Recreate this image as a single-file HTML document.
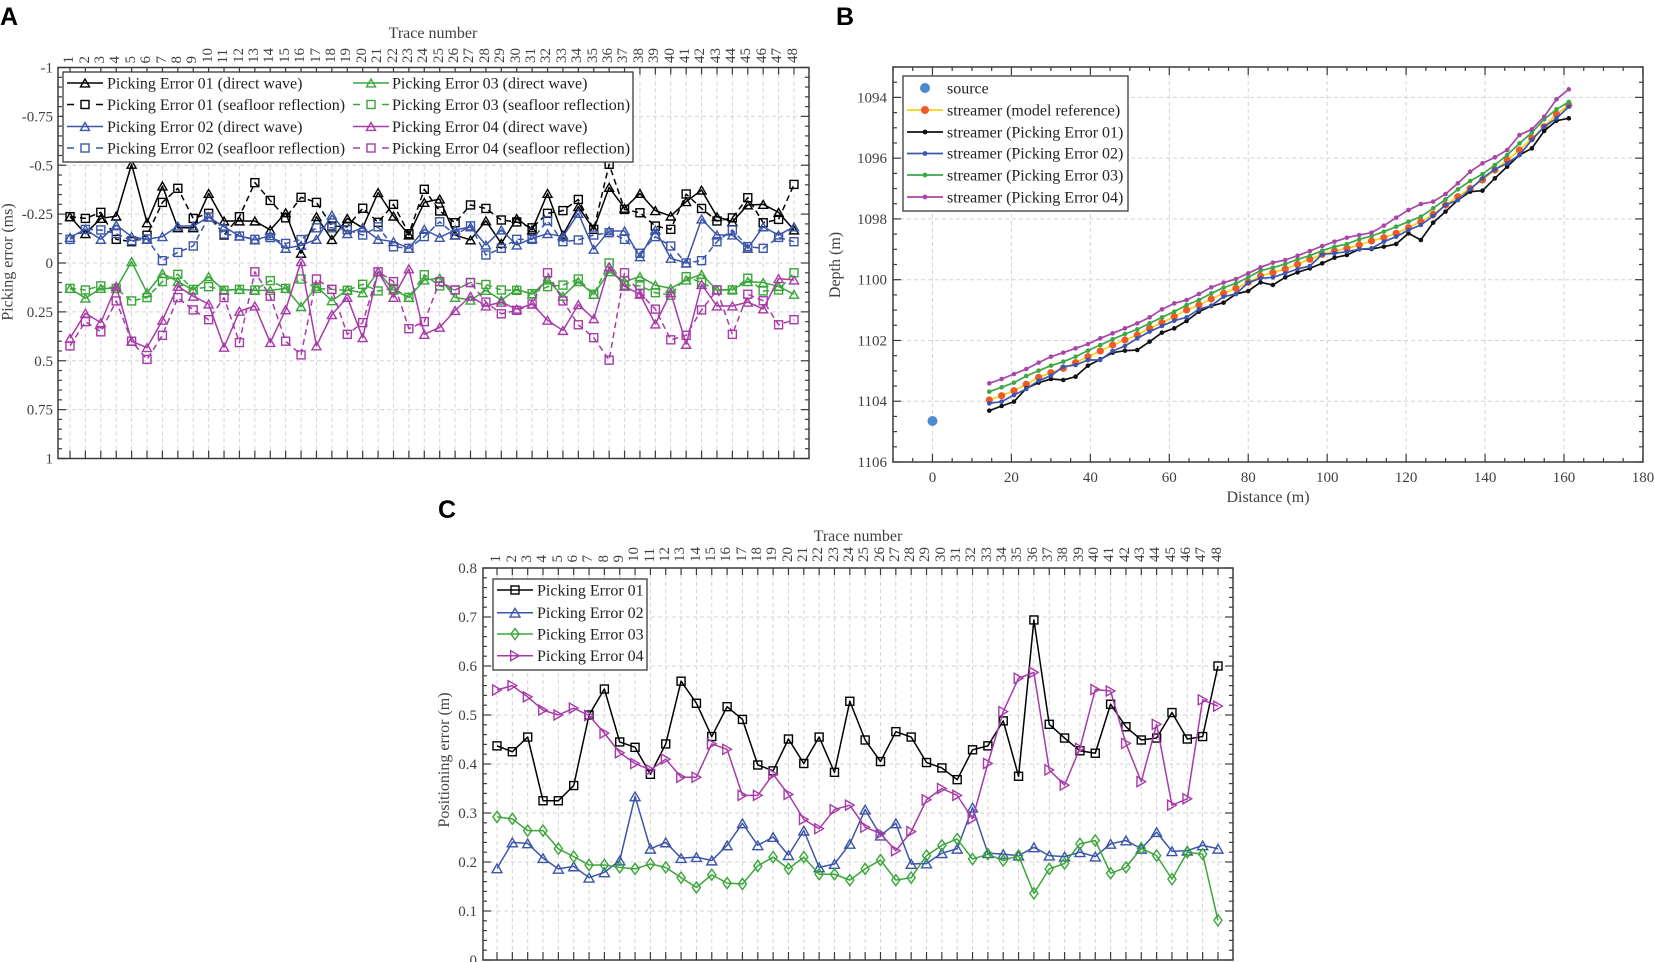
<!DOCTYPE html>
<html><head><meta charset="utf-8">
<style>
html,body{margin:0;padding:0;background:#fff;}
body{width:1654px;height:962px;position:relative;overflow:hidden;font-family:"Liberation Serif",serif;}
svg{position:absolute;left:0;top:0;}
.tn{position:absolute;display:flex;align-items:flex-end;}
.tn span{display:block;writing-mode:vertical-rl;transform:rotate(180deg);font-size:15px;line-height:15px;color:#404040;white-space:nowrap;text-align:center;}
.ta span{width:15.404px;}
.tc span{width:15.34px;}
</style></head>
<body>
<svg width="1654" height="962" viewBox="0 0 1654 962" xmlns="http://www.w3.org/2000/svg">
<g id="dyn"></g>
<g font-family="Liberation Serif, serif" fill="#404040" font-size="15">
  <!-- panel letters -->
  <text x="0" y="25" font-family="Liberation Sans, sans-serif" font-weight="bold" font-size="25" fill="#000">A</text>
  <text x="836" y="25" font-family="Liberation Sans, sans-serif" font-weight="bold" font-size="25" fill="#000">B</text>
  <text x="438" y="518" font-family="Liberation Sans, sans-serif" font-weight="bold" font-size="25" fill="#000">C</text>

  <!-- Panel A -->
  <text x="433" y="38" font-size="16" text-anchor="middle">Trace number</text>
  <g text-anchor="end">
    <text x="53" y="72.5">-1</text>
    <text x="53" y="121.4">-0.75</text>
    <text x="53" y="170.3">-0.5</text>
    <text x="53" y="219.1">-0.25</text>
    <text x="53" y="268">0</text>
    <text x="53" y="316.9">0.25</text>
    <text x="53" y="365.8">0.5</text>
    <text x="53" y="414.6">0.75</text>
    <text x="53" y="463.5">1</text>
  </g>
  <text transform="translate(12.5,262) rotate(-90)" font-size="16" text-anchor="middle">Picking error (ms)</text>
  <g font-size="16" fill="#222">
    <text x="107" y="88.5">Picking Error 01 (direct wave)</text>
    <text x="107" y="110">Picking Error 01 (seafloor reflection)</text>
    <text x="107" y="132">Picking Error 02 (direct wave)</text>
    <text x="107" y="153.5">Picking Error 02 (seafloor reflection)</text>
    <text x="392" y="88.5">Picking Error 03 (direct wave)</text>
    <text x="392" y="110">Picking Error 03 (seafloor reflection)</text>
    <text x="392" y="132">Picking Error 04 (direct wave)</text>
    <text x="392" y="153.5">Picking Error 04 (seafloor reflection)</text>
  </g>

  <!-- Panel B -->
  <g text-anchor="end">
    <text x="887" y="102.4">1094</text>
    <text x="887" y="163.2">1096</text>
    <text x="887" y="223.9">1098</text>
    <text x="887" y="284.7">1100</text>
    <text x="887" y="345.5">1102</text>
    <text x="887" y="406.2">1104</text>
    <text x="887" y="467">1106</text>
  </g>
  <g text-anchor="middle">
    <text x="932.5" y="482">0</text>
    <text x="1011.4" y="482">20</text>
    <text x="1090.4" y="482">40</text>
    <text x="1169.3" y="482">60</text>
    <text x="1248.3" y="482">80</text>
    <text x="1327.2" y="482">100</text>
    <text x="1406.1" y="482">120</text>
    <text x="1485.1" y="482">140</text>
    <text x="1564" y="482">160</text>
    <text x="1643" y="482">180</text>
  </g>
  <text x="1268" y="502" font-size="16" text-anchor="middle">Distance (m)</text>
  <text transform="translate(840,265) rotate(-90)" font-size="16" text-anchor="middle">Depth (m)</text>
  <g font-size="16" fill="#222">
    <text x="947" y="93.5">source</text>
    <text x="947" y="115.5">streamer (model reference)</text>
    <text x="947" y="137.5">streamer (Picking Error 01)</text>
    <text x="947" y="158.5">streamer (Picking Error 02)</text>
    <text x="947" y="180.5">streamer (Picking Error 03)</text>
    <text x="947" y="202.5">streamer (Picking Error 04)</text>
  </g>

  <!-- Panel C -->
  <text x="858" y="541" font-size="16" text-anchor="middle">Trace number</text>
  <g text-anchor="end">
    <text x="477" y="573">0.8</text>
    <text x="477" y="622">0.7</text>
    <text x="477" y="671">0.6</text>
    <text x="477" y="720">0.5</text>
    <text x="477" y="769">0.4</text>
    <text x="477" y="818">0.3</text>
    <text x="477" y="867">0.2</text>
    <text x="477" y="916">0.1</text>
    <text x="477" y="965">0</text>
  </g>
  <text transform="translate(449,760) rotate(-90)" font-size="16" text-anchor="middle">Positioning error (m)</text>
  <g font-size="16" fill="#222">
    <text x="537" y="595.5">Picking Error 01</text>
    <text x="537" y="618">Picking Error 02</text>
    <text x="537" y="639.5">Picking Error 03</text>
    <text x="537" y="661">Picking Error 04</text>
  </g>
</g>
</svg>

<div class="tn ta" style="left:62.3px;top:26px;height:37px;"><span>1</span><span>2</span><span>3</span><span>4</span><span>5</span><span>6</span><span>7</span><span>8</span><span>9</span><span>10</span><span>11</span><span>12</span><span>13</span><span>14</span><span>15</span><span>16</span><span>17</span><span>18</span><span>19</span><span>20</span><span>21</span><span>22</span><span>23</span><span>24</span><span>25</span><span>26</span><span>27</span><span>28</span><span>29</span><span>30</span><span>31</span><span>32</span><span>33</span><span>34</span><span>35</span><span>36</span><span>37</span><span>38</span><span>39</span><span>40</span><span>41</span><span>42</span><span>43</span><span>44</span><span>45</span><span>46</span><span>47</span><span>48</span></div>

<div class="tn tc" style="left:489.3px;top:525px;height:37px;"><span>1</span><span>2</span><span>3</span><span>4</span><span>5</span><span>6</span><span>7</span><span>8</span><span>9</span><span>10</span><span>11</span><span>12</span><span>13</span><span>14</span><span>15</span><span>16</span><span>17</span><span>18</span><span>19</span><span>20</span><span>21</span><span>22</span><span>23</span><span>24</span><span>25</span><span>26</span><span>27</span><span>28</span><span>29</span><span>30</span><span>31</span><span>32</span><span>33</span><span>34</span><span>35</span><span>36</span><span>37</span><span>38</span><span>39</span><span>40</span><span>41</span><span>42</span><span>43</span><span>44</span><span>45</span><span>46</span><span>47</span><span>48</span></div>

<script>
(function(){
const NS='http://www.w3.org/2000/svg';
const S=document.getElementById('dyn');
function E(t,a){const e=document.createElementNS(NS,t);for(const k in a)e.setAttribute(k,a[k]);S.appendChild(e);return e;}
const AX='#3a3a3a', GR='#d4d4d4';
const K='#000000', BL='#3c55a8', GN='#3aa63a', MG='#a83aa8';
function L(x1,y1,x2,y2,c,w,d){const a={x1:x1,y1:y1,x2:x2,y2:y2,stroke:c,'stroke-width':w};if(d)a['stroke-dasharray']=d;E('line',a);}
function P(pts,c,w,d){const a={points:pts.map(p=>p[0].toFixed(2)+','+p[1].toFixed(2)).join(' '),fill:'none',stroke:c,'stroke-width':w,'stroke-linejoin':'round'};if(d)a['stroke-dasharray']=d;E('polyline',a);}
function M(t,x,y,c,s){
  const sw=1.4;
  if(t==='sq')E('rect',{x:x-s/2,y:y-s/2,width:s,height:s,fill:'none',stroke:c,'stroke-width':sw});
  else if(t==='tri'){const h=s*0.87;E('polygon',{points:[x-s/2,y+h/2,x+s/2,y+h/2,x,y-h/2].join(' '),fill:'none',stroke:c,'stroke-width':sw});}
  else if(t==='rtri'){const h=s*0.87;E('polygon',{points:[x-h/2,y-s/2,x+h/2,y,x-h/2,y+s/2].join(' '),fill:'none',stroke:c,'stroke-width':sw});}
  else if(t==='dia'){E('polygon',{points:[x,y-s*0.62,x+s*0.45,y,x,y+s*0.62,x-s*0.45,y].join(' '),fill:'none',stroke:c,'stroke-width':sw});}
  else if(t==='dot')E('circle',{cx:x,cy:y,r:s,fill:c});
}

/* ================= PANEL A ================= */
const xA=i=>70+(i-1)*15.404, yA=v=>263+v*195.5;
const A={l:58,r:809,t:67.5,b:458.5};
for(let i=1;i<=48;i++)L(xA(i),A.t,xA(i),A.b,GR,1,'4,3');
for(let k=-3;k<=3;k++)L(A.l,yA(k*0.25),A.r,yA(k*0.25),GR,1,'4,3');

const A01d=[-0.237,-0.15,-0.228,-0.24,-0.505,-0.206,-0.394,-0.18,-0.18,-0.356,-0.215,-0.215,-0.215,-0.169,-0.257,-0.05,-0.237,-0.12,-0.228,-0.18,-0.36,-0.24,-0.143,-0.31,-0.327,-0.143,-0.118,-0.216,-0.1,-0.228,-0.169,-0.356,-0.143,-0.288,-0.172,-0.387,-0.28,-0.356,-0.268,-0.24,-0.314,-0.373,-0.237,-0.211,-0.297,-0.3,-0.259,-0.169];
const A01s=[-0.237,-0.228,-0.259,-0.121,-0.109,-0.142,-0.31,-0.382,-0.228,-0.254,-0.143,-0.237,-0.411,-0.32,-0.231,-0.336,-0.31,-0.189,-0.185,-0.28,-0.208,-0.30,-0.15,-0.377,-0.266,-0.206,-0.297,-0.279,-0.22,-0.21,-0.18,-0.254,-0.268,-0.325,-0.172,-0.505,-0.274,-0.257,-0.189,-0.172,-0.353,-0.279,-0.215,-0.231,-0.334,-0.206,-0.223,-0.402];
const A02d=[-0.131,-0.172,-0.121,-0.194,-0.135,-0.121,-0.135,-0.189,-0.189,-0.235,-0.185,-0.138,-0.118,-0.14,-0.075,-0.09,-0.121,-0.245,-0.15,-0.18,-0.121,-0.109,-0.075,-0.172,-0.131,-0.169,-0.185,-0.092,-0.169,-0.092,-0.126,-0.15,-0.135,-0.254,-0.07,-0.164,-0.164,-0.032,-0.169,-0.024,0.0,-0.225,-0.143,-0.143,-0.075,-0.185,-0.143,-0.185];
const A02s=[-0.121,-0.172,-0.169,-0.15,-0.114,-0.123,-0.012,-0.054,-0.087,-0.235,-0.148,-0.138,-0.121,-0.13,-0.1,-0.12,-0.18,-0.18,-0.17,-0.143,-0.185,-0.083,-0.075,-0.135,-0.211,-0.143,-0.19,-0.041,-0.075,-0.121,-0.121,-0.216,-0.109,-0.118,-0.143,-0.155,-0.121,-0.05,-0.135,-0.087,0.0,-0.012,-0.109,-0.169,-0.084,-0.075,-0.131,-0.109];
const A03d=[0.13,0.18,0.13,0.13,-0.007,0.152,0.053,0.095,0.138,0.07,0.14,0.135,0.14,0.14,0.13,0.223,0.12,0.193,0.138,0.152,0.045,0.138,0.176,0.087,0.078,0.176,0.19,0.14,0.19,0.135,0.159,0.087,0.17,0.095,0.16,0.045,0.095,0.07,0.113,0.13,0.087,0.058,0.138,0.135,0.095,0.1,0.12,0.16];
const A03s=[0.13,0.138,0.117,0.13,0.194,0.177,0.095,0.058,0.135,0.121,0.14,0.135,0.138,0.09,0.13,0.082,0.13,0.135,0.14,0.109,0.143,0.13,0.176,0.06,0.117,0.138,0.1,0.11,0.138,0.14,0.157,0.121,0.113,0.082,0.16,0.0,0.113,0.117,0.152,0.165,0.07,0.1,0.138,0.138,0.078,0.143,0.138,0.05];
const A04d=[0.385,0.257,0.305,0.119,0.4,0.433,0.293,0.119,0.17,0.21,0.431,0.247,0.22,0.407,0.239,-0.007,0.424,0.264,0.176,0.382,0.045,0.176,0.03,0.365,0.329,0.243,0.17,0.22,0.2,0.236,0.21,0.293,0.345,0.213,0.285,0.019,0.119,0.16,0.312,0.152,0.416,0.11,0.22,0.22,0.2,0.235,0.08,0.087];
const A04s=[0.424,0.3,0.352,0.194,0.4,0.493,0.37,0.177,0.24,0.29,0.177,0.407,0.045,0.17,0.4,0.47,0.082,0.135,0.365,0.305,0.045,0.095,0.336,0.3,0.095,0.138,0.1,0.2,0.26,0.242,0.21,0.05,0.194,0.316,0.382,0.497,0.05,0.155,0.236,0.393,0.37,0.24,0.138,0.365,0.16,0.193,0.316,0.29];

function serA(d,c,m,dash){
  P(d.map((v,i)=>[xA(i+1),yA(v)]),c,1.5,dash?'6,4':null);
  d.forEach((v,i)=>M(m,xA(i+1),yA(v),c,m==='tri'?9:8));
}
serA(A01d,K,'tri',false);serA(A01s,K,'sq',true);
serA(A02d,BL,'tri',false);serA(A02s,BL,'sq',true);
serA(A03d,GN,'tri',false);serA(A03s,GN,'sq',true);
serA(A04d,MG,'tri',false);serA(A04s,MG,'sq',true);

E('rect',{x:A.l,y:A.t,width:A.r-A.l,height:A.b-A.t,fill:'none',stroke:AX,'stroke-width':1.5});
for(let i=1;i<=48;i++){L(xA(i),A.t,xA(i),A.t+7,AX,1.2);L(xA(i),A.b,xA(i),A.b-8,AX,1.2);}
for(let k=-20;k<=20;k++){const y=yA(k*0.05);const len=(k%5===0)?8:4;L(A.l,y,A.l+len,y,AX,1.2);L(A.r,y,A.r-len,y,AX,1.2);}

// legend A
E('rect',{x:63,y:72,width:570,height:90,fill:'#fff',stroke:AX,'stroke-width':1.3});
const LA=[[67,83,K,false],[67,104.5,K,true],[67,126.5,BL,false],[67,148,BL,true],[353,83,GN,false],[353,104.5,GN,true],[353,126.5,MG,false],[353,148,MG,true]];
LA.forEach(r=>{const x0=r[0],y=r[1],c=r[2],d=r[3];
  if(d){L(x0,y,x0+7,y,c,1.5);L(x0+29,y,x0+36,y,c,1.5);M('sq',x0+18,y,c,8);}
  else{L(x0,y,x0+36,y,c,1.5);M('tri',x0+18,y,c,9);}
});

/* ================= PANEL B ================= */
const xB=m=>893+(m+10)*3.947, yB=d=>67+(d-1093)*30.385;
const B={l:893,r:1643,t:67,b:462};
for(let m=0;m<=160;m+=20)L(xB(m),B.t,xB(m),B.b,GR,1,'4,3');
for(let d=1094;d<=1104;d+=2)L(B.l,yB(d),B.r,yB(d),GR,1,'4,3');

const xs=i=>989.3+(i-1)*12.33;
function mk(z10,z11){const a=z10.map(z=>220+z/3);const b=z11.slice(2).map(z=>70+z/3);return a.concat(b);}
const Bor=mk([540,527,512,493,472,458,445,428,410,393,375,360,345,325,308,290,270,255,237,220,205,187,168,158,147,133,118,103,93,85,75],[535,527,513,503,490,473,455,433,405,380,355,330,300,270,240,205,170,133,105]);
const Bmg=mk([490,477,462,447,428,410,398,385,372,355,340,325,310,292,268,250,240,222,202,188,177,160,142,128,120,107,93,78,65,53,45],[505,495,488,467,443,420,402,395,372,340,305,280,262,240,195,178,140,88,58]);
const Bgn=mk([515,502,488,468,452,437,425,410,392,375,358,342,328,310,292,275,255,240,220,203,190,172,152,143,132,118,107,92,80,72,58],[515,505,498,485,470,455,440,415,388,358,333,312,285,255,220,188,148,118,96]);
const Bbl=mk([550,545,525,507,482,467,440,435,420,420,393,378,355,335,318,302,292,268,257,230,222,188,175,172,160,147,138,103,100,95,88],[545,538,535,515,500,480,465,438,405,390,358,325,298,280,255,210,170,145,110]);
const Bbk=mk([572,558,545,505,488,477,480,470,437,418,398,392,390,365,338,325,303,275,258,248,222,213,187,195,172,157,145,130,113,105,88],[555,540,537,530,522,490,510,458,425,390,365,362,325,290,255,235,183,152,145]);

// source
M('dot',xB(0),yB(1104.65),'#4a8bd2',5);
// model reference
P(Bor.map((y,i)=>[xs(i+1),y]),'#f7d117',1.7);
Bor.forEach((y,i)=>M('dot',xs(i+1),y,'#f05a28',3.6));
const BK='#111111', BBL='#3b56b0', BGN='#3aa845', BMG='#a845a8';
[[Bbk,BK],[Bbl,BBL],[Bgn,BGN],[Bmg,BMG]].forEach(s=>{
  P(s[0].map((y,i)=>[xs(i+1),y]),s[1],1.7);
  s[0].forEach((y,i)=>M('dot',xs(i+1),y,s[1],2.3));
});

E('rect',{x:B.l,y:B.t,width:B.r-B.l,height:B.b-B.t,fill:'none',stroke:AX,'stroke-width':1.5});
for(let m=-10;m<=180;m+=5){const x=xB(m);const len=(m%20===0)?8:4;L(x,B.b,x,B.b-len,AX,1.2);L(x,B.t,x,B.t+len,AX,1.2);}
for(let k=0;k<=26;k++){const d=1093+k*0.5;const y=yB(d);const len=(Math.abs(d%2)<1e-9)?8:4;L(B.l,y,B.l+len,y,AX,1.2);L(B.r,y,B.r-len,y,AX,1.2);}

// legend B
E('rect',{x:903,y:76,width:225,height:135,fill:'#fff',stroke:AX,'stroke-width':1.3});
M('dot',925,88,'#4a8bd2',5);
L(907,110,943,110,'#f7d117',1.7);M('dot',925,110,'#f05a28',4);
[[132,BK],[153.5,BBL],[175,BGN],[197,BMG]].forEach(r=>{L(907,r[0],943,r[0],r[1],1.7);M('dot',925,r[0],r[1],2.4);});

/* ================= PANEL C ================= */
const xC=i=>497+(i-1)*15.34, yC=v=>568+(0.8-v)*490;
const C={l:483,r:1233,t:568,b:960};
for(let i=1;i<=48;i++)L(xC(i),C.t,xC(i),C.b,GR,1,'4,3');
for(let k=1;k<=7;k++)L(C.l,yC(k*0.1),C.r,yC(k*0.1),GR,1,'4,3');

const C01=[0.437,0.425,0.455,0.325,0.325,0.356,0.5,0.553,0.445,0.434,0.379,0.441,0.569,0.524,0.456,0.517,0.491,0.398,0.386,0.451,0.401,0.455,0.383,0.528,0.449,0.405,0.466,0.455,0.403,0.392,0.368,0.429,0.437,0.488,0.375,0.694,0.481,0.453,0.427,0.422,0.522,0.476,0.449,0.453,0.505,0.451,0.456,0.6];
const C02=[0.187,0.24,0.238,0.208,0.186,0.191,0.168,0.179,0.203,0.334,0.227,0.24,0.208,0.21,0.203,0.234,0.279,0.234,0.251,0.214,0.264,0.189,0.196,0.237,0.307,0.254,0.279,0.196,0.197,0.218,0.227,0.311,0.218,0.216,0.213,0.23,0.213,0.211,0.22,0.211,0.237,0.244,0.227,0.261,0.222,0.223,0.234,0.227];
const C03=[0.292,0.288,0.264,0.264,0.227,0.211,0.194,0.194,0.189,0.186,0.196,0.189,0.168,0.148,0.174,0.157,0.155,0.192,0.21,0.186,0.21,0.175,0.175,0.163,0.186,0.204,0.163,0.168,0.213,0.234,0.247,0.206,0.216,0.203,0.213,0.136,0.186,0.197,0.237,0.244,0.177,0.189,0.228,0.213,0.165,0.22,0.216,0.081];
const C04=[0.551,0.56,0.537,0.51,0.5,0.514,0.499,0.463,0.423,0.401,0.388,0.41,0.373,0.373,0.441,0.43,0.336,0.336,0.379,0.338,0.287,0.268,0.307,0.316,0.271,0.258,0.223,0.262,0.327,0.35,0.336,0.288,0.401,0.507,0.575,0.587,0.388,0.357,0.432,0.552,0.549,0.442,0.364,0.481,0.316,0.329,0.531,0.518];
function serC(d,c,m,s){
  P(d.map((v,i)=>[xC(i+1),yC(v)]),c,1.5);
  d.forEach((v,i)=>M(m,xC(i+1),yC(v),c,s));
}
serC(C01,K,'sq',8);
serC(C02,BL,'tri',10);
serC(C03,GN,'dia',9);
serC(C04,MG,'rtri',10);

E('rect',{x:C.l,y:C.t,width:C.r-C.l,height:C.b-C.t,fill:'none',stroke:AX,'stroke-width':1.5});
for(let i=1;i<=48;i++){L(xC(i),C.t,xC(i),C.t+7,AX,1.2);L(xC(i),C.b,xC(i),C.b-8,AX,1.2);}
for(let k=0;k<=40;k++){const y=yC(k*0.02);const len=(k%5===0)?8:4;L(C.l,y,C.l+len,y,AX,1.2);L(C.r,y,C.r-len,y,AX,1.2);}

// legend C
E('rect',{x:493,y:579,width:154,height:91,fill:'#fff',stroke:AX,'stroke-width':1.3});
[[590,K,'sq',8],[612.7,BL,'tri',10],[634,GN,'dia',9],[655.7,MG,'rtri',10]].forEach(r=>{L(497,r[0],533,r[0],r[1],1.5);M(r[2],515,r[0],r[1],r[3]);});
})();
</script>
</body></html>
